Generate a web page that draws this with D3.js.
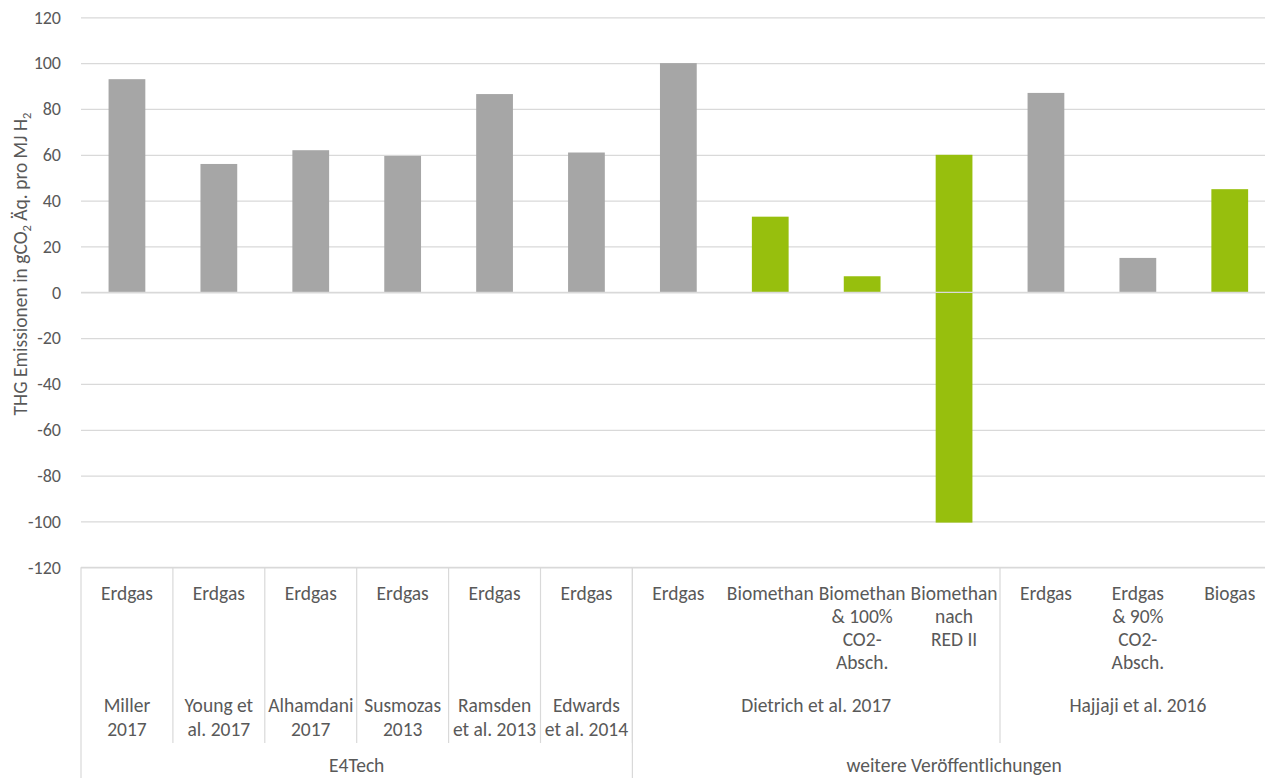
<!DOCTYPE html>
<html>
<head>
<meta charset="utf-8">
<script src="https://cdnjs.cloudflare.com/ajax/libs/d3/7.8.5/d3.min.js"></script>
<style>
  body { margin: 0; background: #fff; }
  text { font-family: Calibri, Carlito, Lato, sans-serif; fill: #595959; }
</style>
</head>
<body>
<script>
var width = 1265;
var height = 778;

// level 1 categories (line breaks as in the chart)
var categories = [
  ["Erdgas"], ["Erdgas"], ["Erdgas"], ["Erdgas"], ["Erdgas"], ["Erdgas"],
  ["Erdgas"], ["Biomethan"], ["Biomethan", "& 100%", "CO2-", "Absch."], ["Biomethan", "nach", "RED II"],
  ["Erdgas"], ["Erdgas", "& 90%", "CO2-", "Absch."], ["Biogas"]
];

// level 2: studies, with number of categories they span
var studies = [
  { name: ["Miller", "2017"], span: 1 },
  { name: ["Young et", "al. 2017"], span: 1 },
  { name: ["Alhamdani", "2017"], span: 1 },
  { name: ["Susmozas", "2013"], span: 1 },
  { name: ["Ramsden", "et al. 2013"], span: 1 },
  { name: ["Edwards", "et al. 2014"], span: 1 },
  { name: ["Dietrich et al. 2017"], span: 4 },
  { name: ["Hajjaji et al. 2016"], span: 3 }
];

// level 3: sources
var sources = [
  { name: "E4Tech", span: 6 },
  { name: "weitere Veröffentlichungen", span: 7 }
];

// THG emissions in gCO2 eq. per MJ H2
var fossil = [93, 56, 62, 59.5, 86.5, 61, 100, null, null, null, 87, 15, null];
var bio = [null, null, null, null, null, null, null, 33, 7, 60, null, null, 45];
var bioNeg = [null, null, null, null, null, null, null, null, null, -100.5, null, null, null];

var yTicks = d3.range(-120, 121, 20);

// note: "top" is taken by window.top, so plot edges get own names
var plotLeft = 81, plotRight = 1275.7, plotTop = 17.3, plotBottom = 567.3;
var fs = 19.5;

var svg = d3.select("body").append("svg")
    .attr("width", width)
    .attr("height", height);

var idx = d3.range(categories.length);

var xCell = d3.scaleBand().domain(idx).range([plotLeft, plotRight]);
var x = d3.scaleBand().domain(idx).range([plotLeft, plotRight]).paddingInner(0.6).paddingOuter(0.3);
var y = d3.scaleLinear().domain([-120, 120]).range([plotBottom, plotTop]);

// gridlines
svg.append("g")
    .attr("transform", "translate(" + plotLeft + ",0)")
    .call(d3.axisLeft(y).tickValues(yTicks).tickSize(-(plotRight - plotLeft)).tickFormat(""))
    .call(function(g) {
      g.select(".domain").remove();
      g.selectAll("line").attr("stroke", "#d9d9d9").attr("stroke-width", 1.2);
    });

// y tick labels (plain hyphen like Excel)
svg.append("g")
    .attr("transform", "translate(61,0)")
    .call(d3.axisLeft(y).tickValues(yTicks).tickSize(0).tickPadding(0)
      .tickFormat(function(d) { return String(d); }))
    .call(function(g) {
      g.select(".domain").remove();
      g.selectAll("text").attr("font-size", 18).attr("fill", "#595959")
        .style("font-family", "Calibri, Carlito, Lato, sans-serif");
    });

function drawBars(data, color) {
  svg.append("g").selectAll("rect")
    .data(idx.filter(function(i) { return data[i] != null; }))
    .enter().append("rect")
      .attr("x", function(i) { return x(i); })
      .attr("width", x.bandwidth())
      .attr("y", function(i) { return y(Math.max(0, data[i])); })
      .attr("height", function(i) { return Math.abs(y(data[i]) - y(0)); })
      .attr("fill", color);
}

drawBars(fossil, "#a6a6a6");
drawBars(bio, "#97bf0d");
drawBars(bioNeg, "#97bf0d");

// zero line over the bars
svg.append("line")
    .attr("x1", plotLeft).attr("x2", plotRight)
    .attr("y1", y(0)).attr("y2", y(0))
    .attr("stroke", "#d9d9d9").attr("stroke-width", 1.2);

// category axis box
var axisG = svg.append("g");
var lineColor = "#d9d9d9";

axisG.append("line")
    .attr("x1", plotLeft).attr("x2", plotRight)
    .attr("y1", plotBottom).attr("y2", plotBottom)
    .attr("stroke", lineColor).attr("stroke-width", 1.2);

// level 1 labels
axisG.selectAll(".cat")
  .data(idx)
  .enter().append("text")
    .attr("class", "cat")
    .attr("text-anchor", "middle")
    .attr("font-size", fs)
    .attr("x", function(i) { return xCell(i) + xCell.bandwidth() / 2; })
    .attr("y", 600)
    .each(function(i) {
      var t = d3.select(this);
      categories[i].forEach(function(line, k) {
        t.append("tspan")
          .attr("x", xCell(i) + xCell.bandwidth() / 2)
          .attr("dy", k == 0 ? 0 : 23)
          .text(line);
      });
    });

// level 2 labels and separators
var pos = 0;
studies.forEach(function(s) {
  var x0 = xCell(pos);
  var x1 = pos + s.span < categories.length ? xCell(pos + s.span) : plotRight;
  var t = axisG.append("text")
    .attr("text-anchor", "middle")
    .attr("font-size", fs)
    .attr("y", 712);
  s.name.forEach(function(line, k) {
    t.append("tspan")
      .attr("x", (x0 + x1) / 2)
      .attr("dy", k == 0 ? 0 : 24)
      .text(line);
  });
  axisG.append("line")
    .attr("x1", x1).attr("x2", x1)
    .attr("y1", plotBottom).attr("y2", 743)
    .attr("stroke", lineColor).attr("stroke-width", 1.2);
  pos += s.span;
});

// level 3 labels and separators
pos = 0;
axisG.append("line")
    .attr("x1", plotLeft).attr("x2", plotLeft)
    .attr("y1", plotBottom).attr("y2", height)
    .attr("stroke", lineColor).attr("stroke-width", 1.2);
sources.forEach(function(s) {
  var x0 = xCell(pos);
  var x1 = pos + s.span < categories.length ? xCell(pos + s.span) : plotRight;
  axisG.append("text")
    .attr("text-anchor", "middle")
    .attr("font-size", fs)
    .attr("x", (x0 + x1) / 2)
    .attr("y", 772)
    .text(s.name);
  axisG.append("line")
    .attr("x1", x1).attr("x2", x1)
    .attr("y1", plotBottom).attr("y2", height)
    .attr("stroke", lineColor).attr("stroke-width", 1.2);
  pos += s.span;
});

// y axis title
var title = svg.append("text")
    .attr("transform", "translate(27,264) rotate(-90)")
    .attr("text-anchor", "middle")
    .attr("font-size", 19.5);
title.append("tspan").text("THG Emissionen in gCO");
title.append("tspan").attr("font-size", 12.5).attr("dy", 4).text("2");
title.append("tspan").attr("dy", -4).text(" Äq. pro MJ H");
title.append("tspan").attr("font-size", 12.5).attr("dy", 4).text("2");
</script>
</body>
</html>
